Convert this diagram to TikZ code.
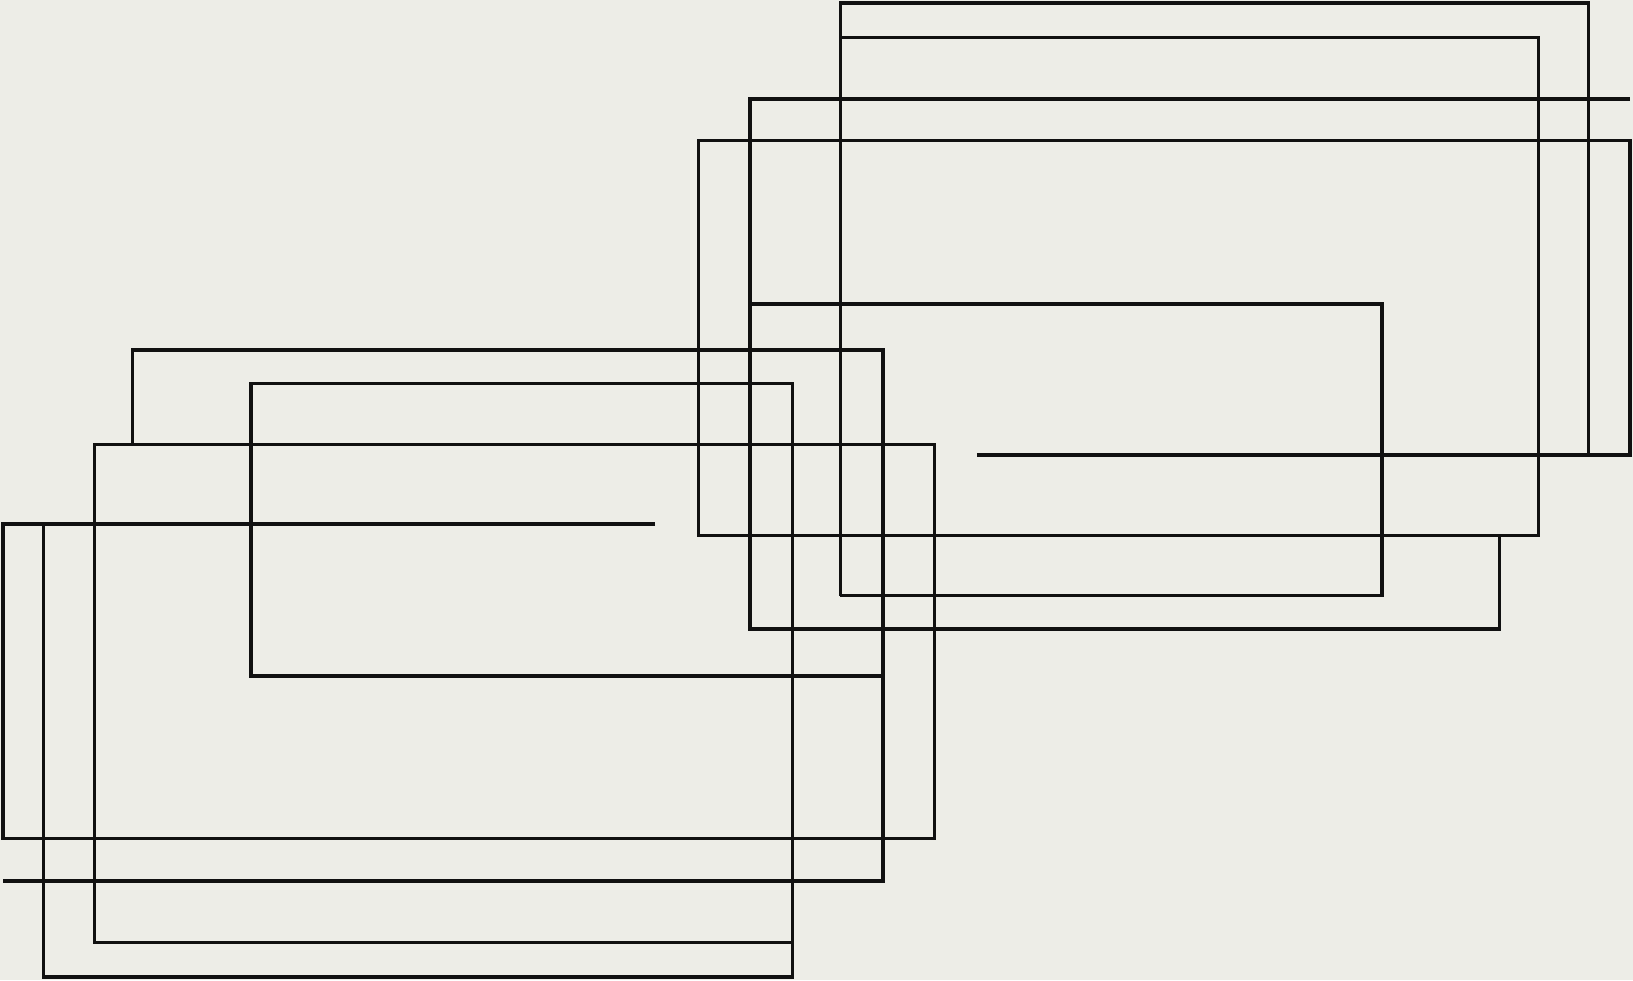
\documentclass[tikz,border=0pt]{standalone}
\definecolor{bg}{HTML}{EDEDE7}
\definecolor{ln}{HTML}{111111}
\begin{document}
\begin{tikzpicture}[x=0.5pt,y=-0.5pt,wire/.style={draw=ln,line width=1.6pt,line join=miter}]
\fill[bg] (0,0) rectangle (1568,941);
\useasboundingbox (0,0) rectangle (1568,941);
% top-right group
\draw[wire] (807,572)--(807,3)--(1525,3)--(1525,437);
\draw[wire] (938,437)--(1565,437)--(1565,135)--(671,135)--(671,514)--(1477,514)--(1477,36)--(807,36);
\draw[wire] (807,572)--(1327,572)--(1327,292)--(720,292);
\draw[wire] (1565,95)--(720,95)--(720,604)--(1440,604)--(1440,514);
% bottom-left group
\draw[wire] (127,427)--(127,336)--(848,336)--(848,846)--(3,846);
\draw[wire] (848,649)--(241,649)--(241,368)--(761,368)--(761,938)--(42,938)--(42,503);
\draw[wire] (629,503)--(3,503)--(3,805)--(897,805)--(897,427)--(91,427)--(91,905)--(761,905);
\end{tikzpicture}
\end{document}
